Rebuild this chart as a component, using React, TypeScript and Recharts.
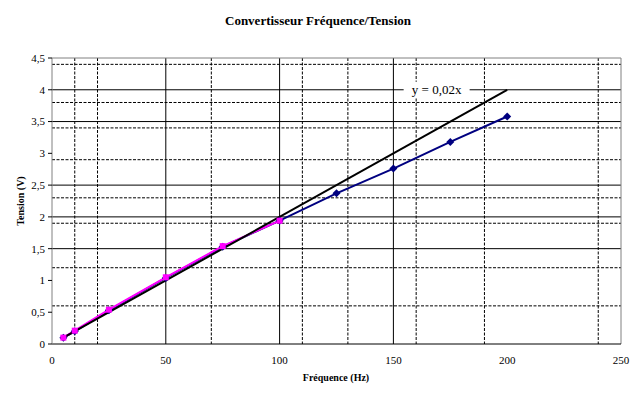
import { LineChart, Line, XAxis, YAxis, CartesianGrid, ReferenceLine, ReferenceDot } from "recharts";

// valeurs mesurées
const freq = [5, 10, 25, 50, 75, 100, 125, 150, 175, 200];
const tension = [0.1, 0.2, 0.53, 1.04, 1.53, 1.94, 2.37, 2.76, 3.18, 3.58];

// portion linéaire (rose)
const linFreq = [5, 10, 25, 50, 75, 100];
const linTension = [0.1, 0.21, 0.54, 1.05, 1.54, 1.94];

// courbe de tendance y = 0,02x
const trendFreq = [5, 200];
const trendTension = [0.1, 4.0];

const xTicks = [0, 50, 100, 150, 200, 250];
const yTicks = [0, 0.5, 1, 1.5, 2, 2.5, 3, 3.5, 4, 4.5];

const majorY = [1.5, 2, 2.5, 3.5, 4];
const minorY = [0.3, 0.6, 0.9, 1.2, 1.6, 1.7, 1.9, 2.2, 2.3, 2.6, 2.8, 2.9, 3.1, 3.2, 3.4, 3.7, 3.8, 4.1, 4.4];
const majorX = [50, 100, 150];
const minorX = [10, 20, 70, 110, 130, 160, 180, 190, 230, 240];

const mesures = freq.map((f, i) => ({ x: f, y: tension[i] }));
const lineaire = linFreq.map((f, i) => ({ x: f, y: linTension[i] }));
const tendance = trendFreq.map((f, i) => ({ x: f, y: trendTension[i] }));

const serif = "'Liberation Serif', 'Times New Roman', serif";
const fmt = (v: number) => String(v).replace(".", ",");

const Diamond = (props: any) => {
    const { cx, cy } = props;
    if (cx == null || cy == null) return null;
    return <path d={`M${cx},${cy - 4} L${cx + 4},${cy} L${cx},${cy + 4} L${cx - 4},${cy} Z`} fill="#000080" />;
};

const Square = (props: any) => {
    const { cx, cy } = props;
    if (cx == null || cy == null) return null;
    return <rect x={cx - 3} y={cy - 3} width={6} height={6} fill="#FF00FF" />;
};

const EquationLabel = (props: any) => {
    const { cx, cy } = props;
    return <g>
        <rect x={cx - 33} y={cy - 8} width={66} height={16} fill="#ffffff" />
        <text x={cx} y={cy} textAnchor="middle" dominantBaseline="central" fontFamily={serif} fontSize={13} fill="#000">y = 0,02x</text>
    </g>;
};

export default function App() {
    return <div style={{ position: "absolute", left: 0, top: 0, width: 640, height: 398, background: "#fff", fontFamily: serif }}>
        <div style={{ position: "absolute", left: 0, top: 13, width: 636, textAlign: "center", fontWeight: "bold", fontSize: 13 }}>
            Convertisseur Fréquence/Tension
        </div>
        <div style={{ position: "absolute", left: 336, top: 372, transform: "translateX(-50%)", fontWeight: "bold", fontSize: 10, whiteSpace: "nowrap" }}>
            Fréquence (Hz)
        </div>
        <div style={{ position: "absolute", left: 20, top: 201, transform: "translate(-50%, -50%) rotate(-90deg)", fontWeight: "bold", fontSize: 10, whiteSpace: "nowrap" }}>
            Tension (V)
        </div>
        <LineChart width={640} height={398} margin={{ top: 58, right: 19, bottom: 24, left: 22 }} style={{ position: "absolute", left: 0, top: 0, fontFamily: serif }}>
            <CartesianGrid horizontalValues={minorY} verticalValues={minorX} stroke="#000" strokeDasharray="3 1.5" />
            <CartesianGrid horizontalValues={majorY} verticalValues={majorX} stroke="#000" />
            <XAxis dataKey="x" type="number" domain={[0, 250]} ticks={xTicks} height={30} axisLine={{ stroke: "#000" }} tickLine={false} tickMargin={6}
                tick={{ fontSize: 11, fontFamily: serif, fill: "#000" }} />
            <YAxis type="number" domain={[0, 4.5]} ticks={yTicks} width={30} axisLine={{ stroke: "#808080" }} tickLine={{ stroke: "#000" }} tickSize={4} tickMargin={3}
                tickFormatter={fmt} tick={{ fontSize: 11, fontFamily: serif, fill: "#000" }} />
            <ReferenceLine y={4.5} stroke="#808080" />
            <ReferenceLine x={250} stroke="#808080" />
            <Line data={mesures} dataKey="y" stroke="#000080" strokeWidth={2} dot={<Diamond />} isAnimationActive={false} />
            <Line data={lineaire} dataKey="y" stroke="#FF00FF" strokeWidth={2} dot={<Square />} isAnimationActive={false} />
            <Line data={tendance} dataKey="y" stroke="#000" strokeWidth={2} dot={false} isAnimationActive={false} />
            <ReferenceDot x={169} y={4} r={0} shape={<EquationLabel />} />
        </LineChart>
    </div>;
}
